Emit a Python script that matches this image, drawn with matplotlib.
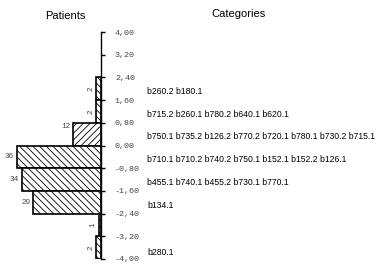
import numpy as np
import matplotlib
matplotlib.use("Agg")
import matplotlib.pyplot as plt

# bins of the score axis (upper edge, lower edge) and patient counts per bin
bin_tops = [2.4, 1.6, 0.8, 0.0, -0.8, -1.6, -2.4, -3.2]
bin_width = 0.8
patients = [2, 2, 12, 36, 34, 29, 1, 2]
hatches = ["\\\\\\\\\\", "\\\\\\\\\\", "/////", "\\\\\\\\\\", "\\\\\\\\\\",
           "\\\\\\\\\\", "\\\\\\\\\\", "\\\\\\\\\\"]

# categories listed next to each bin
categories = [
    "b260.2 b180.1",
    "b715.2 b260.1 b780.2 b640.1 b620.1",
    "b750.1 b735.2 b126.2 b770.2 b720.1 b780.1 b730.2 b715.1",
    "b710.1 b710.2 b740.2 b750.1 b152.1 b152.2 b126.1",
    "b455.1 b740.1 b455.2 b730.1 b770.1",
    "b134.1",
    "",
    "b280.1",
]

tick_values = np.arange(-4.0, 4.01, 0.8)
tick_labels = [f"{v:.2f}".replace(".", ",").replace("-0,00", "0,00") for v in tick_values]

plt.rcParams["hatch.linewidth"] = 0.6

fig = plt.figure(figsize=(3.89, 2.75), dpi=100)
ax = fig.add_axes([0, 16 / 275, 1, 227 / 275])
px = 2.333  # pixels per patient
ax.set_xlim(-101 / px, 288 / px)
ax.set_ylim(-4, 4)

centers = [t - bin_width / 2 for t in bin_tops]
ax.barh(centers, [-p for p in patients], height=bin_width, left=0,
        color="white", edgecolor="black", linewidth=1.2, hatch=hatches)

mono = "Liberation Mono"
for c, p in zip(centers, patients):
    if p >= 10:
        y = c + 0.28 if p == 12 else c
        ax.text(-p - 1.2, y, str(p), ha="right", va="center",
                fontsize=5.5, family=mono, color="#444444")
    else:
        ax.text(-p - 0.9, c, str(p), ha="right", va="center", rotation=90,
                fontsize=5.5, family=mono, color="#444444")

for c, txt in zip(centers, categories):
    y = c - 0.1 if c > -3.5 else c - 0.18
    ax.text(19.7, y, txt, ha="left", va="center", fontsize=6.25,
            family="Liberation Sans", color="black")

for s in ["top", "bottom", "left"]:
    ax.spines[s].set_visible(False)
ax.spines["right"].set_position(("data", 0))
ax.spines["right"].set_linewidth(1.0)
ax.yaxis.tick_right()
ax.set_yticks(tick_values)
ax.set_yticklabels(tick_labels, family=mono, fontsize=6, color="#444444")
ax.tick_params(axis="y", direction="out", length=3, width=1, pad=7)
ax.set_xticks([])

fig.text(65 / 389, 1 - 16 / 275, "Patients", ha="center", va="center",
         fontsize=8, family="Liberation Sans")
fig.text(239 / 389, 1 - 14 / 275, "Categories", ha="center", va="center",
         fontsize=8, family="Liberation Sans")

fig.savefig("out.png", dpi=100)
